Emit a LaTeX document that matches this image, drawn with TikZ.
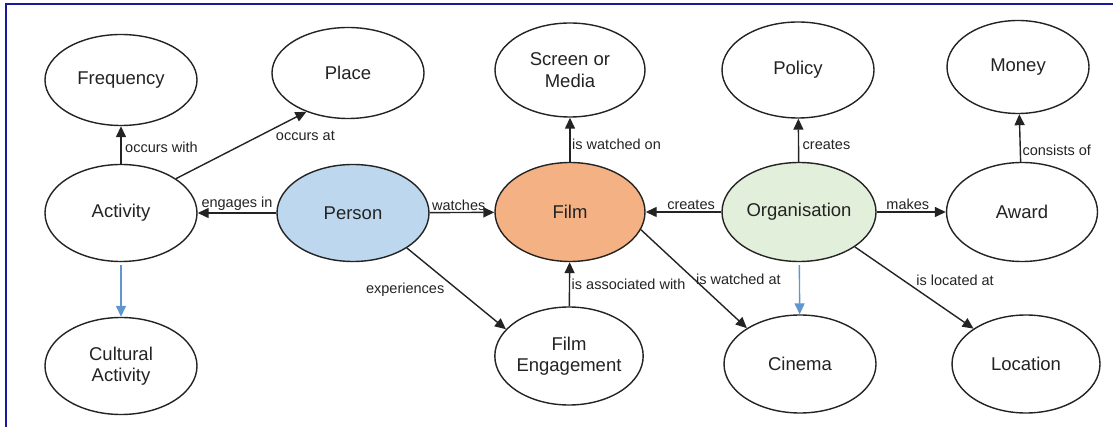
\documentclass[tikz,border=0pt]{standalone}
\usepackage{fontspec}
\setmainfont{Liberation Sans}
\usetikzlibrary{shapes.geometric,arrows.meta}
\definecolor{inkgray}{RGB}{35,35,35}
\definecolor{framenavy}{RGB}{25,25,160}
\definecolor{personblue}{RGB}{189,215,238}
\definecolor{filmorange}{RGB}{244,177,131}
\definecolor{orggreen}{RGB}{226,239,218}
\definecolor{subblue}{RGB}{95,150,205}
\tikzset{
  concept/.style={ellipse, draw=inkgray, line width=1.4pt, fill=white, inner sep=0pt,
    text=inkgray, align=center, font=\fontsize{18.5}{21.5}\selectfont},
  rel/.style={draw=inkgray, line width=1.4pt, -{Triangle[length=11pt,width=10pt]}},
  subrel/.style={draw=subblue, line width=1.4pt, -{Triangle[length=11pt,width=10pt]}, shorten <=3pt},
  lbl/.style={text=inkgray, inner sep=1.5pt, font=\fontsize{14.5}{17}\selectfont}
}
\begin{document}
\begin{tikzpicture}[x=1pt,y=-1pt]
\useasboundingbox (0,0) rectangle (1113,427);
% frame
\draw[framenavy, line width=2.5pt] (6,427) -- (6,4) -- (1113,4);

% concepts
\node[concept, minimum width=152pt, minimum height=91pt] (freq) at (121,80) {Frequency};
\node[concept, minimum width=152pt, minimum height=91pt] (place) at (348,73) {Place};
\node[concept, minimum width=152pt, minimum height=97pt] (act) at (121,213) {Activity};
\node[concept, minimum width=152pt, minimum height=97pt] (cult) at (121,366) {Cultural\\Activity};
\node[concept, fill=personblue, minimum width=152pt, minimum height=97pt] (person) at (353,213) {Person};
\node[concept, minimum width=150pt, minimum height=94pt] (screen) at (570,70) {Screen or\\Media};
\node[concept, fill=filmorange, minimum width=150pt, minimum height=99pt] (film) at (570,212) {Film};
\node[concept, minimum width=148pt, minimum height=98pt] (eng) at (569,356) {Film\\Engagement};
\node[concept, minimum width=152pt, minimum height=96pt] (policy) at (798,70) {Policy};
\node[concept, fill=orggreen, minimum width=154pt, minimum height=99pt] (org) at (799,212) {Organisation};
\node[concept, minimum width=152pt, minimum height=98pt] (cinema) at (800,364) {Cinema};
\node[concept, minimum width=142pt, minimum height=93pt] (money) at (1018,67) {Money};
\node[concept, minimum width=151pt, minimum height=99pt] (award) at (1022,212) {Award};
\node[concept, minimum width=148pt, minimum height=98pt] (loc) at (1026,364) {Location};

% relations
\draw[rel] (person) -- node[lbl, above] {engages in} (act);
\draw[rel] (act) -- node[lbl, anchor=west, pos=0.45, xshift=2pt] {occurs with} (freq);
\draw[rel] (act.32) -- node[lbl, anchor=north west, pos=0.75] {occurs at} (place.223);
\draw[subrel] (act) -- (cult);
\draw[rel] (person) -- node[lbl, above, pos=0.45] {watches} (film);
\draw[rel] (person.-33) -- node[lbl, anchor=north east, pos=0.4] {experiences} (eng.157);
\draw[rel] (eng) -- node[lbl, anchor=west, pos=0.5] {is associated with} (film);
\draw[rel] (film) -- node[lbl, anchor=west, pos=0.4] {is watched on} (screen);
\draw[rel] (org) -- node[lbl, above, pos=0.4] {creates} (film);
\draw[rel] (film.-14) -- node[lbl, anchor=west, pos=0.5] {is watched at} (cinema.146);
\draw[subrel] (org) -- (cinema);
\draw[rel] (org) -- node[lbl, anchor=west, pos=0.4, xshift=2pt] {creates} (policy);
\draw[rel] (org) -- node[lbl, above, pos=0.45] {makes} (award);
\draw[rel] (org.-32) -- node[lbl, anchor=south west, pos=0.5] {is located at} (loc.146);
\draw[rel] (award) -- node[lbl, anchor=west, pos=0.25] {consists of} (money);
\end{tikzpicture}
\end{document}
